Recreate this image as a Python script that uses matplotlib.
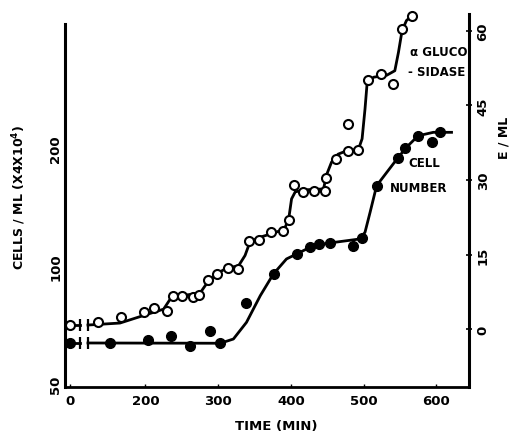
import numpy as np
import matplotlib
matplotlib.use("Agg")
import matplotlib.pyplot as plt
from matplotlib.ticker import FixedLocator, NullLocator

# broken time axis: 0..T_BREAK squeezed into a short stub left of the break
POS0 = 96.0
T_BREAK = 120.0

# cell number (left, log axis, cells/ml x 4x10^4) - filled circles
cell_t = [0, 151, 203, 235, 262, 289, 303, 338, 377, 409, 426, 439, 454, 486,
          498, 518, 547, 557, 575, 594, 605]
cell_n = [63.6, 63.6, 64.7, 66.3, 62.5, 68.2, 63.5, 80.6, 95.4, 107.3, 111.6,
          113.8, 114.3, 112.3, 117.7, 159.7, 188.3, 199.7, 214.9, 207.5, 219.3]

# alpha glucosidase (right axis, E/ml) - open circles
gluc_t = [0, 135, 167, 198, 212, 229, 238, 251, 265, 274, 286, 299, 313, 328,
          342, 356, 373, 389, 398, 404, 417, 432, 447, 448, 462, 478, 492, 479,
          506, 524, 540, 553, 567]
gluc_e = [0.9, 1.5, 2.4, 3.4, 4.2, 3.7, 6.6, 6.6, 6.4, 6.9, 9.9, 11.1, 12.2,
          12.1, 17.8, 18.0, 19.5, 19.7, 22.0, 28.9, 27.5, 27.7, 27.8, 30.4,
          34.2, 35.8, 36.1, 41.3, 50.1, 51.4, 49.3, 60.4, 63.0]

# hand-drawn smooth curves (before / after the break)
cell_curve_t0 = [0, 72]
cell_curve_n0 = [63.6, 63.6]
cell_curve_t = [121, 303, 321, 339, 358, 376, 394, 408, 431, 454, 495, 502,
                509, 518, 532, 546, 559, 575, 596, 621]
cell_curve_n = [63.6, 63.5, 65.1, 71.8, 84.0, 95.4, 104.2, 107.3, 112.7, 114.5,
                117.2, 121.9, 137.1, 160.3, 173.4, 187.5, 200.8, 214.9, 219.3,
                219.3]

gluc_curve_t0 = [0, 72]
gluc_curve_e0 = [0.8, 0.8]
gluc_curve_t = [121, 165, 197, 225, 234, 248, 275, 284, 298, 312, 328, 337,
                344, 358, 376, 391, 397, 401, 406, 417, 445, 449, 456, 465,
                477, 493, 498, 502, 505, 514, 532, 543, 548, 553, 559, 569]
gluc_curve_e = [0.8, 1.2, 2.7, 4.0, 6.0, 6.7, 7.2, 9.1, 11.1, 12.3, 12.7, 14.8,
                17.6, 18.5, 19.3, 20.1, 22.1, 26.2, 27.6, 28.0, 28.2, 31.0,
                33.6, 35.2, 35.9, 36.2, 38.3, 44.3, 49.7, 50.7, 51.1, 52.0,
                55.7, 60.1, 62.1, 63.4]

x_ticks = [0, 200, 300, 400, 500, 600]
left_ticks = [50, 100, 200]
right_ticks = [0, 15, 30, 45, 60]


def fwd(t):
    t = np.asarray(t, dtype=float)
    return np.where(t < T_BREAK, POS0 + t * (T_BREAK - POS0) / T_BREAK, t)


def inv(p):
    p = np.asarray(p, dtype=float)
    return np.where(p < T_BREAK, (p - POS0) * T_BREAK / (T_BREAK - POS0), p)


plt.rcParams["font.family"] = "DejaVu Sans"
plt.rcParams["font.weight"] = "bold"

fig = plt.figure(figsize=(5.13, 4.35), dpi=100)
ax = fig.add_axes([0.1267, 0.108, 0.7875, 0.8575])
ax2 = ax.twinx()

ax.set_xscale("function", functions=(fwd, inv))
ax.set_yscale("log")
ax.set_xlim(-33, 645)
ax.set_ylim(49.1, 439.5)
ax2.set_ylim(-11.68, 63.42)

lw = 2.0
# cell number
ax.plot(cell_curve_t0, cell_curve_n0, color="black", lw=lw)
ax.plot(cell_curve_t, cell_curve_n, color="black", lw=lw)
ax.plot([cell_curve_t0[-1], cell_curve_t[0]], [cell_curve_n0[-1], cell_curve_n[0]],
        ls="none", marker="|", ms=8, mew=1.6, color="black")
ax.plot(cell_t, cell_n, ls="none", marker="o", ms=7, color="black", clip_on=False)

# alpha glucosidase
ax2.plot(gluc_curve_t0, gluc_curve_e0, color="black", lw=lw)
ax2.plot(gluc_curve_t, gluc_curve_e, color="black", lw=lw)
ax2.plot([gluc_curve_t0[-1], gluc_curve_t[0]], [gluc_curve_e0[-1], gluc_curve_e[0]],
         ls="none", marker="|", ms=8, mew=1.6, color="black")
ax2.plot(gluc_t, gluc_e, ls="none", marker="o", ms=6.5, mfc="white",
         mec="black", mew=1.5, color="black", clip_on=False, zorder=5)

# spines
for a in (ax, ax2):
    a.spines["top"].set_visible(False)
    a.patch.set_visible(False)
ax.spines["right"].set_visible(False)
ax2.spines["left"].set_visible(False)
ax2.spines["bottom"].set_visible(False)
ax.spines["left"].set_linewidth(2.2)
ax.spines["bottom"].set_linewidth(2.0)
ax2.spines["right"].set_linewidth(2.2)
ax.spines["left"].set_bounds(49.1, 414)

# x axis
ax.xaxis.set_major_locator(FixedLocator(x_ticks))
ax.xaxis.set_minor_locator(NullLocator())
ax.set_xticklabels([str(v) for v in x_ticks])
ax.tick_params(axis="x", direction="in", length=2.5, width=1, pad=5,
               labelsize=9.5)

# left axis
ax.yaxis.set_major_locator(FixedLocator(left_ticks))
ax.yaxis.set_minor_locator(NullLocator())
ax.set_yticklabels([str(v) for v in left_ticks], rotation=90, va="center")
ax.tick_params(axis="y", length=0, pad=2, labelsize=9.5)

# right axis
ax2.yaxis.set_major_locator(FixedLocator(right_ticks))
ax2.set_yticklabels([str(v) for v in right_ticks], rotation=90, va="center")
ax2.tick_params(axis="y", direction="inout", length=5, width=1.2, pad=3,
                labelsize=9.5)

# axis titles
fig.text(276 / 513, 1 - 427 / 435, "TIME (MIN)", fontsize=9.5,
         fontweight="bold", ha="center", va="center")
fig.text(19 / 513, 1 - 197 / 435, r"CELLS / ML (X4X10$^{\mathbf{4}}$)",
         fontsize=9, fontweight="bold", rotation=90, ha="center", va="center")
fig.text(504 / 513, 1 - 138 / 435, "E / ML", fontsize=9, fontweight="bold",
         rotation=90, ha="center", va="center")

# curve labels
for x, y, s in [(0.925, 0.90, "\u03b1 GLUCO"), (0.92, 0.847, "- SIDASE"),
                (0.89, 0.603, "CELL"), (0.875, 0.536, "NUMBER")]:
    ax2.text(x, y, s, transform=ax.transAxes, fontsize=8.5,
             fontweight="bold", ha="center", va="center")

fig.savefig("out.png", dpi=100)
